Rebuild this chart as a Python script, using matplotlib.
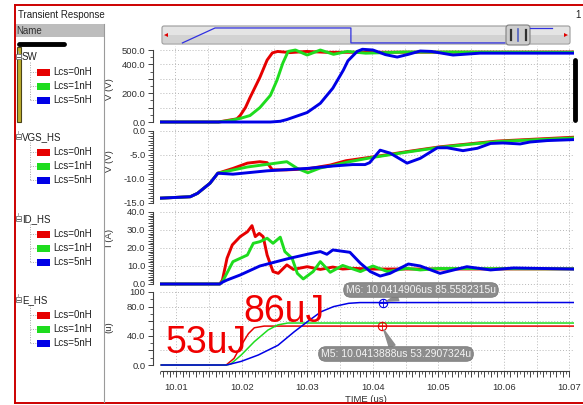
import matplotlib
matplotlib.use('Agg')
import matplotlib.pyplot as plt
from matplotlib.patches import Rectangle, FancyBboxPatch, Polygon
import numpy as np

W, H = 583, 405
plt.rcParams['font.family'] = ['Liberation Sans', 'DejaVu Sans']

RED, GREEN, BLUE = '#e60000', '#1edc1e', '#0000e6'
COLORS = [RED, GREEN, BLUE]
SERIES = ['Lcs=0nH', 'Lcs=1nH', 'Lcs=5nH']
GROUPS = ['SW', 'VGS_HS', 'ID_HS', 'E_HS']

X0, X1 = 10.0077, 10.0707

# ---- SW (V) ----
sw_t_red = [10.0077, 10.0166, 10.0181, 10.0194, 10.0199, 10.0207, 10.0214, 10.0229,
            10.0240, 10.0248, 10.0256, 10.0275, 10.0300, 10.0330, 10.0706]
sw_red = [0, 0, 12, 22, 45, 100, 170, 310, 430, 480, 490, 482, 490, 484, 486]
sw_t_green = [10.0077, 10.0166, 10.0183, 10.0199, 10.0214, 10.0229, 10.0245, 10.0255,
              10.0264, 10.0272, 10.0283, 10.0301, 10.0321, 10.0341, 10.0362, 10.0390,
              10.0450, 10.0706]
sw_green = [0, 0, 10, 25, 45, 100, 185, 290, 410, 490, 500, 465, 500, 470, 490, 478, 486, 484]
sw_t_blue = [10.0077, 10.0245, 10.0260, 10.0270, 10.0301, 10.0321, 10.0340, 10.0356,
             10.0363, 10.0377, 10.0385, 10.0401, 10.0420, 10.0438, 10.0455, 10.0473,
             10.0490, 10.0523, 10.0545, 10.0564, 10.0706]
sw_blue = [0, 0, 5, 17, 66, 130, 235, 360, 425, 490, 505, 500, 468, 451, 470, 493,
           490, 465, 472, 478, 478]

# ---- VGS_HS (V) ----
vgs_t_pre = [10.0077, 10.0123, 10.0134, 10.0143, 10.0153, 10.0165]
vgs_pre = [-14.0, -13.7, -13.0, -12.0, -10.9, -8.8]
vgs_t_red = vgs_t_pre + [10.0188, 10.0210, 10.0229, 10.0240, 10.0248, 10.0270, 10.0301,
                         10.0336, 10.0360, 10.0401, 10.0453, 10.0503, 10.0590, 10.0706]
vgs_red = vgs_pre + [-7.8, -6.7, -6.4, -6.6, -8.1, -8.1, -7.9, -7.1, -6.2, -5.4, -4.3,
                     -3.3, -2.1, -1.3]
vgs_t_green = vgs_t_pre + [10.0210, 10.0270, 10.0286, 10.0302, 10.0321, 10.0340, 10.0365,
                           10.0401, 10.0453, 10.0503, 10.0590, 10.0706]
vgs_green = vgs_pre + [-7.5, -6.4, -7.8, -8.7, -7.7, -7.2, -6.4, -5.5, -4.4, -3.4, -2.2, -1.45]
vgs_t_blue = vgs_t_pre + [10.0188, 10.0240, 10.0301, 10.0340, 10.0370, 10.0389, 10.0396,
                          10.0412, 10.0427, 10.0453, 10.0473, 10.0499, 10.0514, 10.0538,
                          10.0560, 10.0580, 10.0599, 10.0625, 10.0640, 10.0666, 10.0706]
vgs_blue = vgs_pre + [-9.0, -8.3, -7.8, -7.3, -7.0, -7.0, -6.6, -4.0, -4.6, -6.7, -5.7,
                      -3.5, -3.5, -4.1, -3.6, -2.6, -2.5, -2.7, -2.3, -2.0, -1.8]

# ---- ID_HS (A) ----
id_t_red = [10.0077, 10.0168, 10.0172, 10.0179, 10.0187, 10.0199, 10.0210, 10.0217,
            10.0222, 10.0228, 10.0234, 10.0240, 10.0249, 10.0257, 10.0270, 10.0280,
            10.0301, 10.0321, 10.0340, 10.0355, 10.0370, 10.0400, 10.0706]
id_red = [0, 0, 2.2, 14.3, 21.7, 26.3, 29.0, 32.4, 26.3, 28.1, 26.3, 16.1, 6.9, 5.9,
          10.6, 8.1, 9.6, 8.1, 9.4, 8.3, 8.7, 8.3, 8.4]
id_t_green = [10.0077, 10.0168, 10.0172, 10.0188, 10.0210, 10.0219, 10.0229, 10.0240,
              10.0249, 10.0260, 10.0267, 10.0278, 10.0286, 10.0295, 10.0310, 10.0321,
              10.0336, 10.0355, 10.0382, 10.0401, 10.0423, 10.0453, 10.0473, 10.0500, 10.0706]
id_green = [0, 0, 1.3, 12.4, 16.1, 22.6, 23.5, 25.4, 22.6, 26.0, 18.0, 14.3, 5.9, 2.8,
            6.9, 12.4, 6.5, 10.3, 6.9, 10.0, 6.9, 8.7, 7.8, 8.6, 8.4]
id_t_blue = [10.0077, 10.0168, 10.0172, 10.0179, 10.0199, 10.0229, 10.0270, 10.0301,
             10.0321, 10.0331, 10.0340, 10.0366, 10.0382, 10.0397, 10.0412, 10.0427,
             10.0455, 10.0473, 10.0503, 10.0544, 10.0580, 10.0615, 10.0706]
id_blue = [0, 0, 1.0, 2.2, 5.0, 10.0, 13.9, 16.5, 18.0, 16.5, 18.9, 17.6, 11.5, 6.9,
           4.4, 5.9, 11.1, 10.0, 5.9, 9.6, 7.8, 8.9, 8.3]

# ---- E_HS (uJ) ----
e_t_red = [10.0077, 10.0176, 10.0188, 10.0199, 10.0210, 10.0219, 10.0234, 10.0706]
e_red = [0, 0, 9, 27, 43, 51, 53.3, 53.3]
e_t_green = [10.0077, 10.0176, 10.0183, 10.0199, 10.0219, 10.0240, 10.0255, 10.0270, 10.0706]
e_green = [0, 0, 1.4, 13.7, 32, 48, 55, 57.5, 57.5]
e_t_blue = [10.0077, 10.0176, 10.0179, 10.0199, 10.0225, 10.0255, 10.0280, 10.0301,
            10.0321, 10.0340, 10.0363, 10.0380, 10.0706]
e_blue = [0, 0, 0.5, 5, 13.7, 27, 45.6, 60, 73, 80, 84.5, 85.5, 85.6]

# markers
m6 = (10.0414906, 85.5582315)
m5 = (10.0413888, 53.2907324)
x_ticks = [10.01, 10.02, 10.03, 10.04, 10.05, 10.06, 10.07]

# overview strip in the scroll bar (fractions of the strip)
sb_x = [0.05, 0.13, 0.463, 0.463, 0.84]
sb_y = [0.06, 0.89, 0.89, 0.06, 0.06]


def rect(x0, y0, x1, y1):
    return [x0 / W, 1 - y1 / H, (x1 - x0) / W, (y1 - y0) / H]


fig = plt.figure(figsize=(W / 100, H / 100), dpi=100)
fig.patch.set_facecolor('white')

panels = [
    dict(top=46, bot=125, ylim=(-20.8, 527.8), major=np.arange(0, 501, 100),
         labels={0: '0.0', 200: '200.0', 400: '400.0', 500: '500.0'}, minor=50,
         grid=np.arange(0, 501, 100), bounds=(0, 500), ylabel='V (V)', lab_y=89,
         data=[(sw_t_red, sw_red), (sw_t_green, sw_green), (sw_t_blue, sw_blue)], lw=2.1),
    dict(top=127, bot=206, ylim=(-15.63, 0.83), major=np.arange(-15, 0.1, 1),
         labels={0: '0.0', -5: '-5.0', -10: '-10.0', -15: '-15.0'}, minor=0.5,
         grid=[0, -5, -10, -15], bounds=(-15, 0), ylabel='V (V)', lab_y=161,
         data=[(vgs_t_red, vgs_red), (vgs_t_green, vgs_green), (vgs_t_blue, vgs_blue)], lw=2.1),
    dict(top=208, bot=287, ylim=(-1.67, 42.2), major=np.arange(0, 41, 2),
         labels={0: '0.0', 10: '10.0', 20: '20.0', 30: '30.0', 40: '40.0'}, minor=1,
         grid=[0, 10, 20, 30, 40], bounds=(0, 40), ylabel='I (A)', lab_y=238,
         data=[(id_t_red, id_red), (id_t_green, id_green), (id_t_blue, id_blue)], lw=2.1),
    dict(top=289, bot=371, ylim=(-8.2, 104.1), major=np.arange(0, 101, 20),
         labels={0: '0.0', 40: '40.0', 80: '80.0', 100: '100'}, minor=10,
         grid=[20, 40, 60, 80, 100], bounds=(0, 100), ylabel='(u)', lab_y=327,
         data=[(e_t_red, e_red), (e_t_green, e_green), (e_t_blue, e_blue)], lw=1.1),
]

grid_kw = dict(color='#b8b8b8', lw=0.7, ls=(0, (1, 2)), zorder=0)
axes = []
for p in panels:
    ax = fig.add_axes(rect(160, p['top'], 574, p['bot']))
    ax.set_xlim(X0, X1)
    ax.set_ylim(*p['ylim'])
    for s in ['top', 'right', 'bottom']:
        ax.spines[s].set_visible(False)
    ax.spines['left'].set_position(('outward', 5))
    ax.spines['left'].set_bounds(*p['bounds'])
    ax.spines['left'].set_color('#404040')
    ax.spines['left'].set_linewidth(0.8)
    ax.set_yticks(p['major'])
    ax.set_yticklabels([p['labels'].get(round(v), '') if round(v) == v else '' for v in p['major']])
    ax.set_yticks(np.arange(p['bounds'][0], p['bounds'][1] + 1e-9, p['minor']), minor=True)
    ax.tick_params(axis='y', which='major', length=3.5, width=0.7, pad=2,
                   labelsize=6.8, labelcolor='#303030', color='#404040')
    ax.tick_params(axis='y', which='minor', length=2, width=0.6, color='#404040')
    ax.set_xticks([])
    for g in p['grid']:
        ax.axhline(g, **grid_kw)
    for t in np.arange(10.01, 10.0705, 0.005):
        ax.axvline(t, **grid_kw)
    for (t, v), c in zip(p['data'], COLORS):
        ax.plot(t, v, color=c, lw=p['lw'], solid_joinstyle='round', zorder=3)
    fig.text(109 / W, 1 - p['lab_y'] / H, p['ylabel'], rotation=90, ha='center',
             va='center', fontsize=6.8, color='#303030')
    axes.append(ax)

ax4 = axes[-1]
ax4.spines['bottom'].set_visible(True)
ax4.spines['bottom'].set_bounds(X0, 10.0700)
ax4.spines['bottom'].set_color('#404040')
ax4.spines['bottom'].set_linewidth(0.8)
fine = np.round(np.arange(10.008, 10.0705, 0.001), 3)
ax4.set_xticks(fine)
ax4.set_xticklabels(['%.2f' % v if any(abs(v - x) < 1e-6 for x in x_ticks) else '' for v in fine])
ax4.set_xticks(np.arange(10.0075, 10.0705, 0.001), minor=True)
ax4.tick_params(axis='x', which='major', length=4, width=0.7, pad=5, labelsize=6.8,
                labelcolor='#303030', color='#404040')
ax4.tick_params(axis='x', which='minor', length=2.2, width=0.6, color='#404040')
fig.text(366 / W, 1 - 399 / H, 'TIME (us)', ha='center', va='center', fontsize=6.8,
         color='#303030')

# ---- overlay canvas in pixel coordinates ----
ov = fig.add_axes([0, 0, 1, 1])
ov.set_xlim(0, W)
ov.set_ylim(H, 0)
ov.axis('off')
ov.set_zorder(5)
ov.patch.set_alpha(0)

# markers with labels
for (mt, mv), col, lab, pos in [(m6, BLUE, 'M6: 10.0414906us 85.5582315u', (421, 290)),
                                (m5, RED, 'M5: 10.0413888us 53.2907324u', (396, 354))]:
    ax4.plot([mt], [mv], 'o', mfc='none', mec=col, ms=6, mew=0.8, zorder=5)
    ax4.plot([mt], [mv], '+', color=col, ms=6, mew=0.6, zorder=5)
    ax4.annotate(lab, xy=(mt, mv), xytext=pos, textcoords=ov.transData,
                 ha='center', va='center', fontsize=7.5, color='#f4f4f4',
                 bbox=dict(boxstyle='round,pad=0.22,rounding_size=0.7', fc='#8c8c8c', ec='#7a7a7a', lw=0.6),
                 arrowprops=dict(arrowstyle='wedge,tail_width=0.6', fc='#8c8c8c', ec='#8c8c8c',
                                 shrinkA=0, shrinkB=3),
                 annotation_clip=False, zorder=6)

# big hand annotations
ov.text(166, 353, '53uJ', fontsize=27, color='#f00000', va='baseline', ha='left')
ov.text(243, 322, '86uJ', fontsize=27, color='#f00000', va='baseline', ha='left')

# window frame
ov.plot([15, W], [5, 5], color='#cc0000', lw=1.4)
ov.plot([15, 15], [5, 403], color='#cc0000', lw=1.4)
ov.plot([15, W], [403, 403], color='#cc0000', lw=1.4)
ov.text(18, 15, 'Transient Response', fontsize=7, va='center', color='#202020')
ov.add_patch(Rectangle((16, 24), 88, 13, fc='#bdbdbd', ec='none'))
ov.text(16, 30.5, 'Name', fontsize=7, va='center', color='#303030')
ov.plot([104, 104], [24, 402], color='#9a9a9a', lw=0.8)
ov.plot([19, 64], [43.5, 43.5], color='black', lw=3.5, solid_capstyle='round')
ov.add_patch(Rectangle((16.5, 47), 4, 75, fc='#bfae2e', ec='#4a4418', lw=0.8))
ov.plot([575, 575], [60, 120], color='black', lw=3.5, solid_capstyle='round')
ov.text(575, 15, '1', fontsize=7, va='center', color='#202020')

# legend tree
group_y = [57, 137, 219, 300]
for name, gy in zip(GROUPS, group_y):
    ov.add_patch(Rectangle((15.5, gy - 3), 5, 5, fc='white', ec='#707070', lw=0.6))
    ov.plot([16.5, 19.5], [gy - 0.5, gy - 0.5], color='#404040', lw=0.6)
    ov.plot([18, 18], [gy - 6, gy - 3], color='#a0a0a0', lw=0.6)
    ov.text(22, gy, name, fontsize=7, va='center', color='#202020')
    ov.plot([30, 30], [gy + 5, gy + 43], color='#a8a8a8', lw=0.7, ls=(0, (1, 1.5)))
    for k, (s, c) in enumerate(zip(SERIES, COLORS)):
        ey = gy + 15 + 14 * k
        ov.plot([30, 36], [ey, ey], color='#a8a8a8', lw=0.7, ls=(0, (1, 1.5)))
        ov.add_patch(Rectangle((36.5, ey - 3), 13, 6.5, fc=c, ec='none'))
        ov.text(53, ey, s, fontsize=7, va='center', color='#202020')

# scroll bar with overview
ov.add_patch(FancyBboxPatch((162, 26), 408, 18, boxstyle='round,pad=0,rounding_size=2',
                            fc='#e4e4e4', ec='#9a9a9a', lw=0.8))
ov.add_patch(Rectangle((163, 35), 406, 8, fc='#d2d2d2', ec='none'))
ov.plot([162 + 408 * x for x in sb_x], [44 - 18 * y for y in sb_y], color='#3030e0', lw=0.9)
ov.plot([530, 552], [28, 28], color='#3030e0', lw=0.9)
ov.add_patch(Polygon([(164, 35), (168, 33), (168, 37)], fc='#e00000', ec='none'))
ov.add_patch(Polygon([(568, 35), (564, 33), (564, 37)], fc='#e00000', ec='none'))
ov.add_patch(FancyBboxPatch((506, 25), 24, 20, boxstyle='round,pad=0,rounding_size=3',
                            fc='#cdcdcd', ec='#808080', lw=0.8))
ov.plot([510.5, 510.5], [30, 40], color='#303030', lw=1.6)
ov.plot([525.5, 525.5], [30, 40], color='#303030', lw=1.6)
ov.plot([518, 518], [29, 41], color='#5060c0', lw=1.2)

fig.savefig('out.png', dpi=100)
